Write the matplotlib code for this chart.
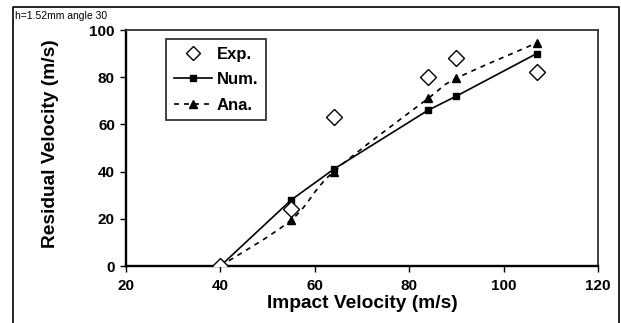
import numpy as np
import matplotlib
matplotlib.use("Agg")
import matplotlib.pyplot as plt
from matplotlib.path import Path
from matplotlib.patches import PathPatch
from matplotlib.lines import Line2D

plt.rcParams['font.family'] = ['Liberation Sans', 'DejaVu Sans']

# data
exp_x = [40, 55, 64, 84, 90, 107]
exp_y = [0, 24, 63, 80, 88, 82]
num_x = [40, 55, 64, 84, 90, 107]
num_y = [0, 28, 41, 66, 72, 90]
ana_x = [40, 55, 64, 84, 90, 107]
ana_y = [0, 19.5, 40, 71, 79.5, 94.5]


def smooth_path(xs, ys):
    # Catmull-Rom style bezier through the points (like a spreadsheet smoothed line)
    pts = np.column_stack([xs, ys]).astype(float)
    verts = [pts[0]]
    codes = [Path.MOVETO]
    n = len(pts)
    for i in range(n - 1):
        p0 = pts[i - 1] if i > 0 else pts[i]
        p1 = pts[i]
        p2 = pts[i + 1]
        p3 = pts[i + 2] if i + 2 < n else pts[i + 1]
        c1 = p1 + (p2 - p0) / 6.0
        c2 = p2 - (p3 - p1) / 6.0
        verts += [c1, c2, p2]
        codes += [Path.CURVE4] * 3
    return Path(verts, codes)


fig = plt.figure(figsize=(6.21, 3.23), dpi=100)
ax = fig.add_axes([126 / 621, 1 - 266 / 323, 472 / 621, 236 / 323])

# analytical: dashed smoothed line with triangles
ax.add_patch(PathPatch(smooth_path(ana_x, ana_y), fill=False, edgecolor='black',
                       lw=1.2, linestyle=(0, (3, 3)), zorder=2))
ax.plot(ana_x, ana_y, linestyle='none', marker='^', color='black', ms=6, zorder=3)
ax.plot(num_x, num_y, '-', color='black', lw=1.2, marker='s', ms=5, zorder=3)
ax.plot(exp_x, exp_y, linestyle='none', marker='D', ms=8, mfc='white', mec='black',
        mew=1.0, zorder=4)

ax.set_xlim(20, 120)
ax.set_ylim(0, 100)
ax.set_xticks(np.arange(20, 121, 20))
ax.set_yticks(np.arange(0, 101, 20))
ax.tick_params(direction='out', length=4, width=1, labelsize=11, colors='black')
ax.tick_params(axis='x', pad=5)
ax.tick_params(axis='y', pad=4)
for lab in ax.get_xticklabels() + ax.get_yticklabels():
    lab.set_fontweight('bold')
for s in ['left', 'bottom']:
    ax.spines[s].set_linewidth(1.7)
for s in ['top', 'right']:
    ax.spines[s].set_linewidth(1.3)
    ax.spines[s].set_color('#333333')

ax.set_xlabel('Impact Velocity (m/s)', fontsize=13.8, fontweight='bold')
ax.xaxis.set_label_coords(0.5, -0.122)
ax.set_ylabel('Residual Velocity (m/s)', fontsize=13.8, fontweight='bold', va='center')
ax.yaxis.set_label_coords(-0.16, 0.519)

handles = [
    Line2D([], [], linestyle='none', marker='D', ms=7, mfc='white', mec='black'),
    Line2D([], [], color='black', lw=1.2, marker='s', ms=5),
    Line2D([], [], color='black', lw=1.2, linestyle=(0, (3, 3)), marker='^', ms=6),
]
leg = ax.legend(handles, ['Exp.', 'Num.', 'Ana.'], loc='upper left',
                bbox_to_anchor=(0.085, 0.96), frameon=True, fancybox=False,
                edgecolor='black', handlelength=2.3, handletextpad=0.3,
                borderpad=0.45, labelspacing=0.62, borderaxespad=0,
                prop={'weight': 'bold', 'size': 12})
leg.get_frame().set_linewidth(1.3)

fig.text(15 / 621, 1 - 16 / 323, 'h=1.52mm angle 30', fontsize=7.5, va='center', ha='left')

# outer frame (left, top, right)
fx0, fx1, fy1 = 13 / 621, 619 / 621, 1 - 7 / 323
fig.add_artist(Line2D([fx0, fx0, fx1, fx1], [-0.1, fy1, fy1, -0.1],
                      transform=fig.transFigure, color='black', lw=1.2))

fig.savefig('out.png', dpi=100)
